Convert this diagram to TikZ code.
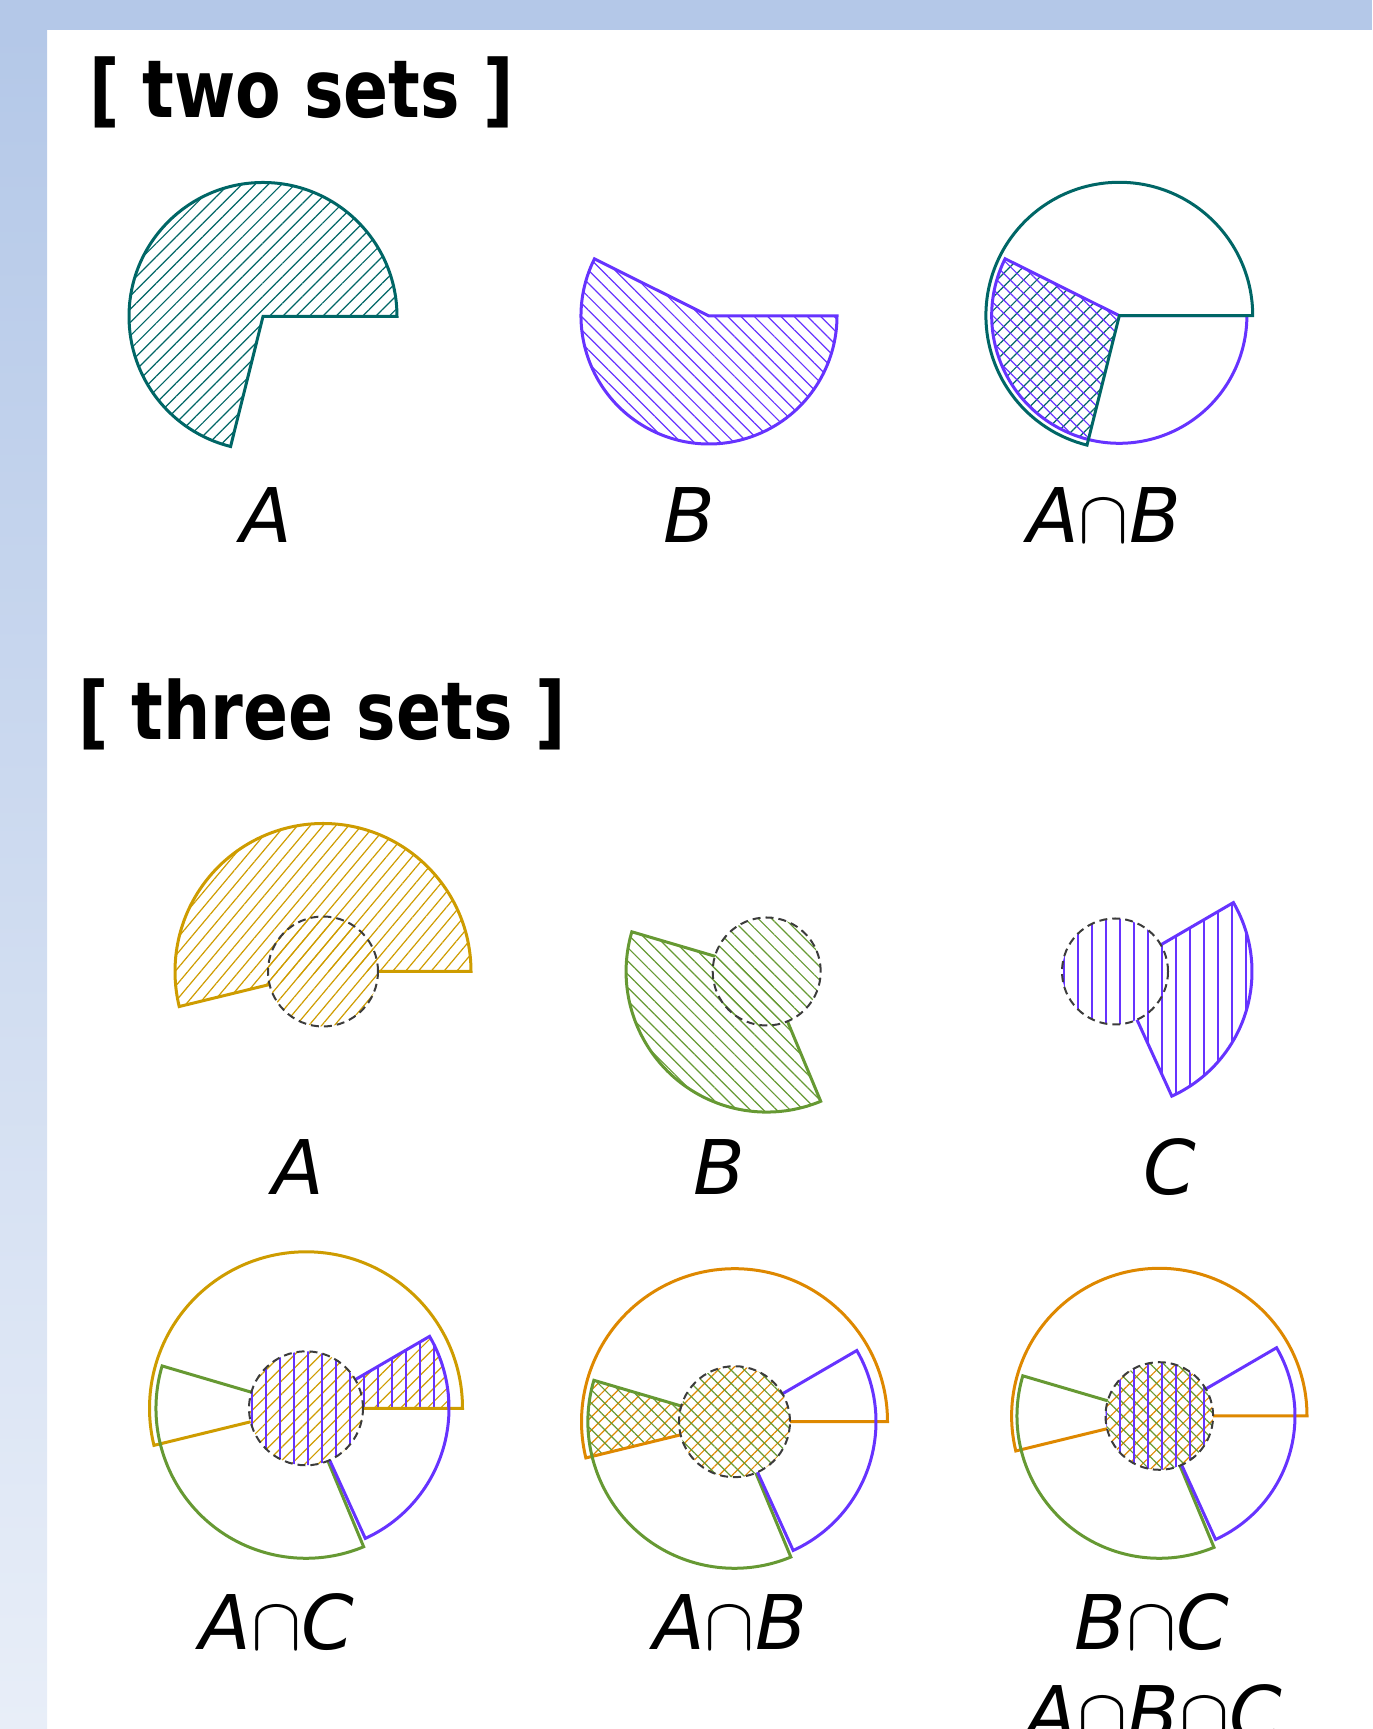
\RequirePackage{fix-cm}
\documentclass[tikz,border=0pt]{standalone}
\usepackage{fontspec}
\usetikzlibrary{patterns.meta}
\newfontfamily\titlefont{DejaVu Sans}[FakeStretch=0.83]
\newfontfamily\labelfont{DejaVu Sans}
\definecolor{tealA}{RGB}{0,102,102}
\definecolor{violetC}{RGB}{102,51,255}
\definecolor{goldA}{RGB}{206,156,0}
\definecolor{orangeA}{RGB}{222,136,0}
\definecolor{greenB}{RGB}{102,153,51}
\definecolor{coregray}{RGB}{60,60,60}
\definecolor{barblue}{RGB}{180,200,232}
\definecolor{barpale}{RGB}{232,238,248}
\begin{document}
\begin{tikzpicture}[x=0.5pt,y=0.5pt,line width=1.5pt,inner sep=0pt,
    heading/.style={anchor=base west,font=\titlefont\bfseries\fontsize{40}{44}\selectfont},
    setname/.style={anchor=base,font=\labelfont\itshape\fontsize{37.7}{42}\selectfont},
    hatchne/.style={pattern={Lines[angle=45,distance=4.7pt,line width=0.6pt]},pattern color=#1},
    hatchsteep/.style={pattern={Lines[angle=50,distance=4.9pt,line width=0.6pt]},pattern color=#1},
    hatchnw/.style={pattern={Lines[angle=-45,distance=4.7pt,line width=0.6pt]},pattern color=#1},
    hatchup/.style={pattern={Lines[angle=90,distance=7pt,line width=0.6pt]},pattern color=#1},
    core/.style={draw=coregray,line width=1pt,dash pattern=on 4pt off 2.5pt}]
    \path[use as bounding box] (0,0) rectangle (1372,1729);
    \clip (0,0) rectangle (1372,1729);
    \fill[barblue] (0,1699) rectangle (1372,1729);
    \shade[top color=barblue,bottom color=barpale] (0,0) rectangle (47,1699);
    \node[heading] (twohead) at (87.5,1611) {[ two sets ]};
    \node[heading] (threehead) at (77,989.5) {[ three sets ]};
    % two sets
    \coordinate (a2) at (263,1412.5);
    \coordinate (b2) at (709,1413);
    \coordinate (ab2) at (1119.3,1413.3);
    \draw[tealA,hatchne=tealA] (a2) -- ++(0:134) arc[start angle=0,end angle=256,radius=134] -- cycle;
    \draw[violetC,hatchnw=violetC] (b2) -- ++(153.5:128) arc[start angle=153.5,end angle=360,radius=128] -- cycle;
    \fill[hatchne=tealA] (ab2) -- ++(153.5:127.6) arc[start angle=153.5,end angle=256,radius=127.6] -- cycle;
    \fill[hatchnw=violetC] (ab2) -- ++(153.5:127.6) arc[start angle=153.5,end angle=256,radius=127.6] -- cycle;
    \draw[violetC] (ab2) -- ++(153.5:127.6) arc[start angle=153.5,end angle=360,radius=127.6] -- cycle;
    \draw[tealA] (ab2) -- ++(0:133.4) arc[start angle=0,end angle=256,radius=133.4] -- cycle;
    \node[setname] (lblA2) at (266,1186) {A};
    \node[setname] (lblB2) at (689,1186) {B};
    \node[setname] (lblAB2) at (1104,1186) {A$\cap$B};
    % three sets
    \coordinate (a3) at (323,757.5);
    \coordinate (b3) at (766.7,757.5);
    \coordinate (c3) at (1115,757.5);
    \fill[hatchsteep=goldA] (a3) -- ++(0:148) arc[start angle=0,end angle=193.7,radius=148] -- cycle;
    \fill[hatchsteep=goldA] (a3) circle[radius=55];
    \draw[goldA] ([shift={(0:55)}]a3) -- ([shift={(0:148)}]a3) arc[start angle=0,end angle=193.7,radius=148] -- ([shift={(193.7:55)}]a3);
    \fill[hatchnw=greenB] (b3) -- ++(163.6:140.6) arc[start angle=163.6,end angle=292.6,radius=140.6] -- cycle;
    \fill[hatchnw=greenB] (b3) circle[radius=54];
    \draw[greenB] ([shift={(163.6:54)}]b3) -- ([shift={(163.6:140.6)}]b3) arc[start angle=163.6,end angle=292.6,radius=140.6] -- ([shift={(292.6:54)}]b3);
    \fill[hatchup=violetC] (c3) -- ++(-65.5:137) arc[start angle=-65.5,end angle=30.2,radius=137] -- cycle;
    \fill[hatchup=violetC] (c3) circle[radius=53];
    \draw[violetC] ([shift={(-65.5:53)}]c3) -- ([shift={(-65.5:137)}]c3) arc[start angle=-65.5,end angle=30.2,radius=137] -- ([shift={(30.2:53)}]c3);
    \draw[core] (a3) circle[radius=55];
    \draw[core] (b3) circle[radius=54];
    \draw[core] (c3) circle[radius=53];
    \node[setname] (lblA3) at (298,534.5) {A};
    \node[setname] (lblB3) at (719,534.5) {B};
    \node[setname] (lblC3) at (1170,534.5) {C};
    % intersections
    \coordinate (ac) at (306,320.7);
    \coordinate (ab) at (734.5,307.3);
    \coordinate (bc) at (1159.3,313);
    \fill[hatchne=goldA] (ac) circle[radius=57] (ac) -- ++(0:143) arc[start angle=0,end angle=30.2,radius=143] -- cycle;
    \fill[hatchup=violetC] (ac) circle[radius=57] (ac) -- ++(0:143) arc[start angle=0,end angle=30.2,radius=143] -- cycle;
    \fill[hatchne=orangeA] (ab) circle[radius=55.5] (ab) -- ++(163.6:146.6) arc[start angle=163.6,end angle=193.7,radius=146.6] -- cycle;
    \fill[hatchnw=greenB] (ab) circle[radius=55.5] (ab) -- ++(163.6:146.6) arc[start angle=163.6,end angle=193.7,radius=146.6] -- cycle;
    \fill[hatchne=orangeA] (bc) circle[radius=53.8];
    \fill[hatchnw=greenB] (bc) circle[radius=53.8];
    \fill[hatchup=violetC] (bc) circle[radius=53.8];
    \foreach \n/\ra/\rb/\rc/\ri/\col in {ac/156.5/150/143/57/goldA,
        ab/153/146.6/141.5/55.5/orangeA,bc/147.7/142.3/135.7/53.8/orangeA} {
      \draw[\col] ([shift={(0:\ri)}]\n) -- ([shift={(0:\ra)}]\n) arc[start angle=0,end angle=193.7,radius=\ra] -- ([shift={(193.7:\ri)}]\n);
      \draw[greenB] ([shift={(163.6:\ri)}]\n) -- ([shift={(163.6:\rb)}]\n) arc[start angle=163.6,end angle=292.6,radius=\rb] -- ([shift={(292.6:\ri)}]\n);
      \draw[violetC] ([shift={(-65.5:\ri)}]\n) -- ([shift={(-65.5:\rc)}]\n) arc[start angle=-65.5,end angle=30.2,radius=\rc] -- ([shift={(30.2:\ri)}]\n);
      \draw[core] (\n) circle[radius=\ri];
    }
    \node[setname] (lblAC) at (277,79) {A$\cap$C};
    \node[setname] (lblAB) at (730,79) {A$\cap$B};
    \node[setname] (lblBC) at (1152,79) {B$\cap$C};
    \node[setname] (lblABC) at (1154,-11) {A$\cap$B$\cap$C};
  \end{tikzpicture}
\end{document}
